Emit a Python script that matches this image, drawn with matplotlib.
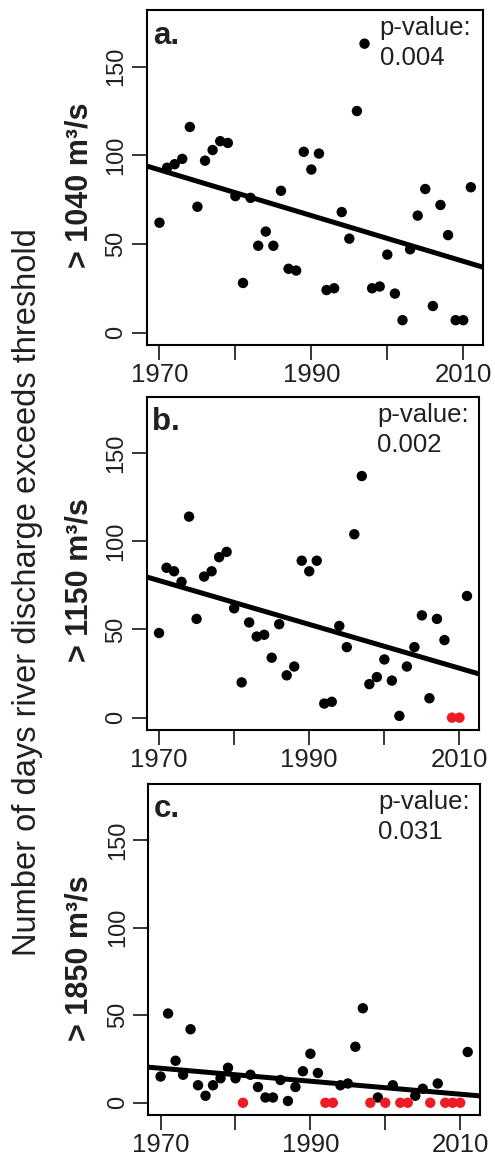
import numpy as np
import matplotlib
matplotlib.use("Agg")
import matplotlib.pyplot as plt

plt.rcParams['font.family'] = ['Liberation Sans', 'DejaVu Sans']

years = list(range(1970, 2012))
days_a = [62, 93, 95, 98, 116, 71, 97, 103, 108, 107,
          77, 28, 76, 49, 57, 49, 80, 36, 35, 102,
          92, 101, 24, 25, 68, 53, 125, 163, 25, 26,
          44, 22, 7, 47, 66, 81, 15, 72, 55, 7,
          7, 82]
days_b = [48, 85, 83, 77, 114, 56, 80, 83, 91, 94,
          62, 20, 54, 46, 47, 34, 53, 24, 29, 89,
          83, 89, 8, 9, 52, 40, 104, 137, 19, 23,
          33, 21, 1, 29, 40, 58, 11, 56, 44, 0,
          0, 69]
days_c = [15, 51, 24, 16, 42, 10, 4, 10, 14, 20,
          14, 0, 16, 9, 3, 3, 13, 1, 9, 18,
          28, 17, 0, 0, 10, 11, 32, 54, 0, 3,
          0, 10, 0, 0, 4, 8, 0, 11, 0, 0,
          0, 29]
panel_letters = ["a.", "b.", "c."]
thresholds = ["> 1040 m³/s", "> 1150 m³/s", "> 1850 m³/s"]
p_values = ["0.004", "0.002", "0.031"]
x_ticks = [1970, 1980, 1990, 2000, 2010]
x_ticklabels = ["1970", "", "1990", "", "2010"]
y_ticks = [0, 50, 100, 150]
y_ticklabels = ["0", "50", "100", "150"]

W, H = 495, 1158
fig = plt.figure(figsize=(W / 100, H / 100), dpi=100)

# axes boxes in pixel coords: left, right, top, bottom
boxes = [(147, 483.3, 10, 345), (146.7, 479.3, 396.7, 730), (148.3, 480, 784.3, 1115)]
ylabel_y = [185, 580, 958]
RED = '#ED1C24'
TXT = '#231F20'

series = [days_a, days_b, days_c]
yrs = np.array(years, dtype=float)
xlim = (1968.36, 2012.64)
for i, (l, r, t, b) in enumerate(boxes):
    ax = fig.add_axes([l / W, 1 - b / H, (r - l) / W, (b - t) / H])
    vals = np.array(series[i], dtype=float)
    ax.set_xlim(*xlim)
    ax.set_ylim(-7, 182)
    # regression line
    k, c0 = np.polyfit(yrs, vals, 1)
    xx = np.array(xlim)
    ax.plot(xx, k * xx + c0, color='black', lw=3.6, solid_capstyle='butt', zorder=2)
    nz = vals > 0
    ax.scatter(yrs[nz], vals[nz], s=56, color='black', edgecolors='none', zorder=3)
    ax.scatter(yrs[~nz], vals[~nz], s=56, color=RED, edgecolors='none', zorder=3)
    ax.set_xticks(x_ticks)
    ax.set_xticklabels(x_ticklabels)
    ax.set_yticks(y_ticks)
    ax.set_yticklabels(y_ticklabels, rotation=90, va='center')
    ax.tick_params(axis='both', direction='out', length=11, width=1.1,
                   colors='black', labelcolor=TXT)
    ax.tick_params(axis='x', pad=2, labelsize=18.5)
    ax.tick_params(axis='y', pad=3, labelsize=17)
    for s in ax.spines.values():
        s.set_linewidth(1.5)
    ax.text(0.017, 0.9, panel_letters[i], transform=ax.transAxes, fontsize=22.5,
            fontweight='bold', color=TXT, ha='left', va='baseline')
    ax.text(0.692, 0.925, "p-value:", transform=ax.transAxes, fontsize=18.5,
            color=TXT, ha='left', va='baseline')
    ax.text(0.692, 0.835, p_values[i], transform=ax.transAxes, fontsize=18.5,
            color=TXT, ha='left', va='baseline')
    fig.text(80 / W, 1 - ylabel_y[i] / H, thresholds[i], rotation=90, fontsize=22,
             fontweight='bold', color=TXT, ha='center', va='center')

fig.text(28 / W, 1 - 592 / H, "Number of days river discharge exceeds threshold",
         rotation=90, fontsize=23.5, color=TXT, ha='center', va='center')

fig.savefig("out.png", dpi=100)
